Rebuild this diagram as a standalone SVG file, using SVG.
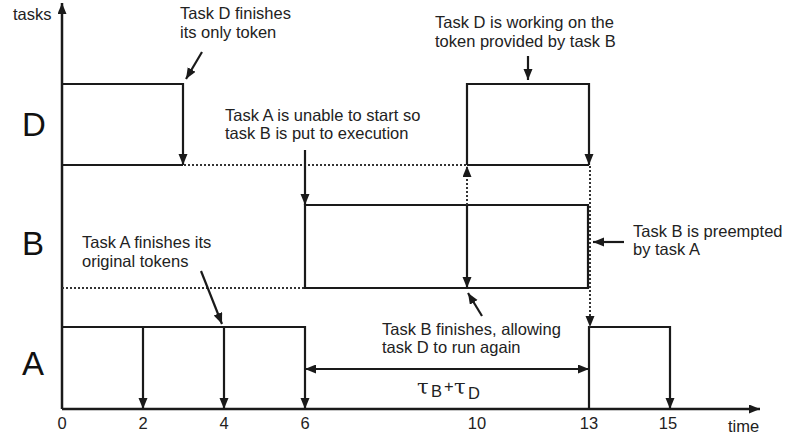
<svg xmlns="http://www.w3.org/2000/svg" width="791" height="439" viewBox="0 0 791 439">
  <defs>
    <marker id="arr" markerUnits="userSpaceOnUse" markerWidth="12" markerHeight="10" refX="11" refY="4.5" orient="auto">
      <path d="M0,0 L11,4.5 L0,9 z" fill="#1a1a1a"/>
    </marker>
    <marker id="arrStart" markerUnits="userSpaceOnUse" markerWidth="12" markerHeight="10" refX="0" refY="4.5" orient="auto">
      <path d="M11,0 L0,4.5 L11,9 z" fill="#1a1a1a"/>
    </marker>
  </defs>
  <style>
    .ln { fill: none; stroke: #1a1a1a; stroke-width: 2.2; }
    .ax { fill: none; stroke: #1a1a1a; stroke-width: 2.5; }
    .dot { fill: none; stroke: #333; stroke-width: 2; stroke-dasharray: 2 2; }
    .lbl { font-family: "Liberation Sans", Arial, sans-serif; font-size: 16.5px; fill: #222; }
    .row { font-family: "Liberation Sans", Arial, sans-serif; font-size: 33px; fill: #111; }
    .tick { font-family: "Liberation Sans", Arial, sans-serif; font-size: 16.5px; fill: #222; text-anchor: middle; }
    .tau { font-family: "DejaVu Serif", "Liberation Serif", serif; fill: #222; }
  </style>
  <rect width="791" height="439" fill="#fff"/>

  <!-- axes -->
  <g id="axes">
    <line class="ax" x1="62" y1="409" x2="62" y2="3" marker-end="url(#arr)"/>
    <line class="ax" x1="62" y1="409" x2="760" y2="409" marker-end="url(#arr)"/>
    <text class="lbl" x="13" y="20">tasks</text>
    <text class="lbl" x="728" y="432">time</text>
    <text class="tick" x="62" y="429">0</text>
    <text class="tick" x="143" y="429">2</text>
    <text class="tick" x="224" y="429">4</text>
    <text class="tick" x="305" y="429">6</text>
    <text class="tick" x="477" y="429">10</text>
    <text class="tick" x="589" y="429">13</text>
    <text class="tick" x="668" y="429">15</text>
  </g>

  <!-- task rows -->
  <g id="task-D">
    <text class="row" x="22" y="136">D</text>
    <line class="ln" x1="62" y1="165" x2="183" y2="165"/>
    <path class="ln" d="M62,84 H183 V165" marker-end="url(#arr)"/>
    <line class="dot" x1="184" y1="165" x2="467" y2="165"/>
    <line class="ln" x1="467" y1="165" x2="589" y2="165"/>
    <path class="ln" d="M467,165 V84 H589 V165" marker-end="url(#arr)"/>
  </g>

  <g id="task-B">
    <text class="row" x="22" y="255">B</text>
    <line class="dot" x1="62" y1="288" x2="305" y2="288"/>
    <path class="ln" d="M305,288 V205 H588 V288 H305 z"/>
  </g>

  <g id="task-A">
    <text class="row" x="22" y="375">A</text>
    <path class="ln" d="M62,327 H305 V409" marker-end="url(#arr)"/>
    <line class="ln" x1="143" y1="327" x2="143" y2="409" marker-end="url(#arr)"/>
    <line class="ln" x1="224" y1="327" x2="224" y2="409" marker-end="url(#arr)"/>
    <path class="ln" d="M589,409 V327 H670 V409" marker-end="url(#arr)"/>
  </g>

  <!-- hand-over connectors between tasks -->
  <g id="connectors">
    <line class="ln" x1="305" y1="150" x2="305" y2="205" marker-end="url(#arr)"/>
    <line class="ln" x1="467" y1="205" x2="467" y2="288" marker-end="url(#arr)"/>
    <line class="dot" x1="467" y1="205" x2="467" y2="166" marker-end="url(#arr)"/>
    <line class="dot" x1="590" y1="166" x2="590" y2="327" marker-end="url(#arr)"/>
    <line class="ln" x1="305" y1="369" x2="589" y2="369" marker-start="url(#arrStart)" marker-end="url(#arr)"/>
    <!-- callout pointers -->
    <line class="ln" x1="202" y1="52" x2="186" y2="79" marker-end="url(#arr)"/>
    <line class="ln" x1="528" y1="56" x2="528" y2="80" marker-end="url(#arr)"/>
    <line class="ln" x1="624" y1="242" x2="593" y2="242" marker-end="url(#arr)"/>
    <line class="ln" x1="201" y1="271" x2="222" y2="324" marker-end="url(#arr)"/>
    <line class="ln" x1="482" y1="316" x2="468" y2="293" marker-end="url(#arr)"/>
  </g>

  <!-- callout texts -->
  <g id="note-d-finishes">
    <text class="lbl" x="180" y="19">Task D finishes</text>
    <text class="lbl" x="180" y="38">its only token</text>
  </g>
  <g id="note-d-working">
    <text class="lbl" x="435" y="28">Task D is working on the</text>
    <text class="lbl" x="435" y="47">token provided by task B</text>
  </g>
  <g id="note-a-unable">
    <text class="lbl" x="225" y="121">Task A is unable to start so</text>
    <text class="lbl" x="225" y="139">task B is put to execution</text>
  </g>
  <g id="note-b-preempted">
    <text class="lbl" x="633" y="237">Task B is preempted</text>
    <text class="lbl" x="633" y="255">by task A</text>
  </g>
  <g id="note-a-finishes">
    <text class="lbl" x="82" y="248">Task A finishes its</text>
    <text class="lbl" x="82" y="267">original tokens</text>
  </g>
  <g id="note-b-finishes">
    <text class="lbl" x="382" y="335">Task B finishes, allowing</text>
    <text class="lbl" x="382" y="353">task D to run again</text>
  </g>
  <g id="interval">
    <text class="tau" x="417" y="394" font-size="21">τ</text>
    <text class="lbl" x="431" y="397" font-size="15">B</text>
    <text class="lbl" x="444" y="392" font-size="12">+</text>
    <text class="tau" x="454" y="394" font-size="21">τ</text>
    <text class="lbl" x="468" y="399" font-size="15">D</text>
  </g>
</svg>
